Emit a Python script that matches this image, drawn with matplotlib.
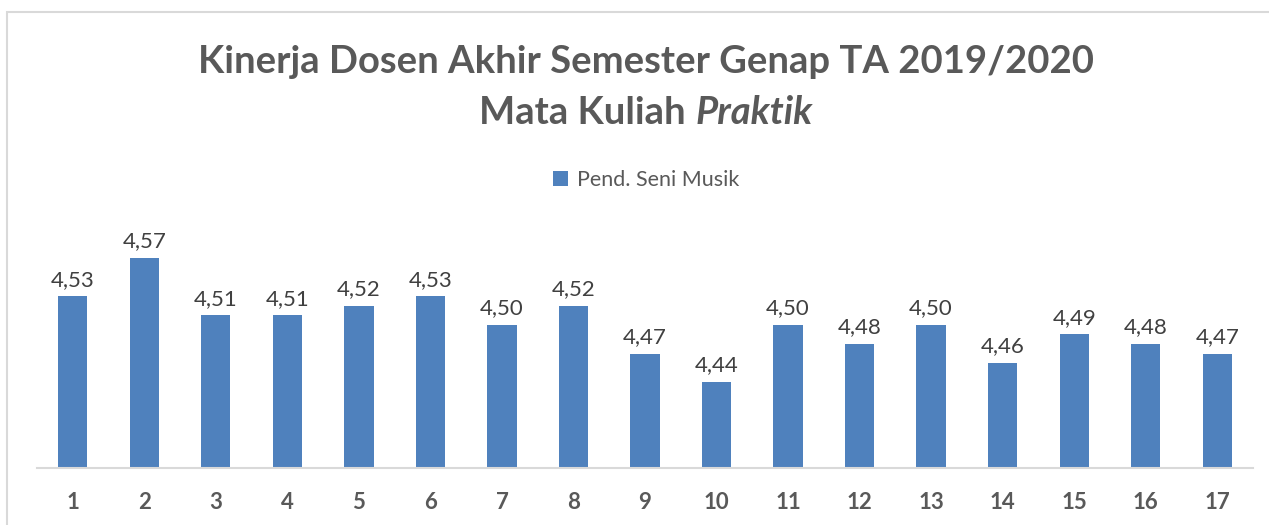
import matplotlib.pyplot as plt
from matplotlib.patches import Rectangle

categories = [str(i) for i in range(1, 18)]
values = [4.53, 4.57, 4.51, 4.51, 4.52, 4.53, 4.50, 4.52, 4.47,
          4.44, 4.50, 4.48, 4.50, 4.46, 4.49, 4.48, 4.47]
series_name = 'Pend. Seni Musik'

bar_color = '#4F81BD'
grey = '#595959'

plt.rcParams['font.family'] = ['Lato', 'DejaVu Sans']

W, H = 1269, 525
fig = plt.figure(figsize=(W / 100, H / 100), dpi=100)

# chart border (only top and left visible in the crop)
fig.add_artist(Rectangle((7 / W, -0.1), 1.2, 1 - 12 / H + 0.1, transform=fig.transFigure,
                         fill=False, edgecolor='#D9D9D9', linewidth=1.5))

ax = fig.add_axes([37 / W, 57 / H, (1253 - 37) / W, (468 - 229.5) / H])
x = range(len(values))
bars = ax.bar(x, values, width=0.41, color=bar_color, label=series_name)
ax.set_xlim(-0.5, len(values) - 0.5)
ax.set_ylim(4.35, 4.60)

for xi, v in zip(x, values):
    ax.text(xi, v + 0.007, f'{v:.2f}'.replace('.', ','), ha='center', va='bottom',
            fontsize=16, color='#404040')

ax.set_xticks(list(x))
ax.set_xticklabels(categories, fontsize=16, fontweight='bold', color=grey)
ax.tick_params(axis='x', length=0, pad=17)
ax.set_yticks([])
for s in ['top', 'right', 'left']:
    ax.spines[s].set_visible(False)
ax.spines['bottom'].set_color('#D9D9D9')
ax.spines['bottom'].set_linewidth(1.5)

cx = 646 / W
title_fs = 27.5
fig.text(cx, 1 - 62 / H, 'Kinerja Dosen Akhir Semester Genap TA 2019/2020',
         ha='center', va='center', fontsize=title_fs, fontweight='bold', color=grey)

# second title line: upright part + bold italic part, centred together
r = fig.canvas.get_renderer()
t1 = fig.text(0, 1 - 113 / H, 'Mata Kuliah ', ha='left', va='center',
              fontsize=title_fs, fontweight='bold', color=grey)
t2 = fig.text(0, 1 - 113 / H, 'Praktik', ha='left', va='center',
              fontsize=title_fs, fontweight='bold', fontstyle='italic', color=grey)
w1 = t1.get_window_extent(r).width / W
w2 = t2.get_window_extent(r).width / W
x0 = cx - (w1 + w2) / 2
t1.set_x(x0)
t2.set_x(x0 + w1)

ax.legend(loc='center', bbox_to_anchor=(cx, 1 - 180 / H), bbox_transform=fig.transFigure,
          frameon=False, fontsize=15.5, labelcolor=grey, handlelength=0.7, handleheight=0.7,
          handletextpad=0.4)

fig.savefig('out.png', dpi=100)
